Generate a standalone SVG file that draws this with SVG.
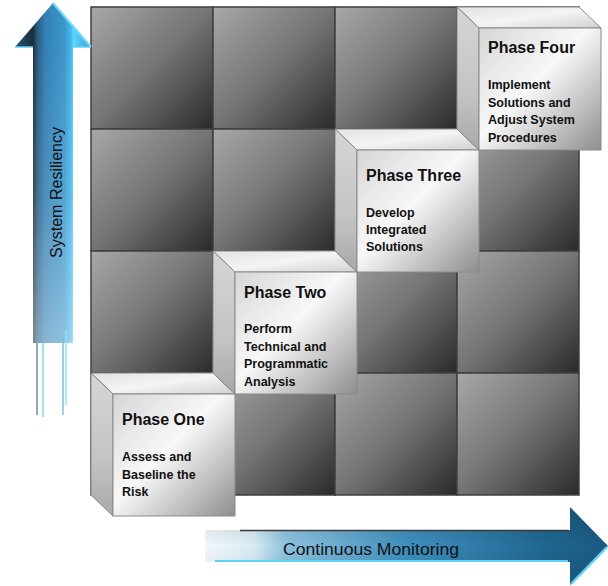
<svg xmlns="http://www.w3.org/2000/svg" width="608" height="586" viewBox="0 0 608 586">
  <style>
    .cell { fill: url(#cellGrad); stroke: #3f3f3f; stroke-width: 1.5; }
    .top { fill: url(#topGrad); stroke: #8a8a8a; stroke-width: 1; }
    .left { fill: url(#leftGrad); stroke: #8a8a8a; stroke-width: 1; }
    .front { fill: url(#frontGrad); stroke: #8a8a8a; stroke-width: 1; }
    .title { font-family: "Liberation Sans", Arial, sans-serif; font-weight: bold; font-size: 16px; fill: #111; }
    .sub { font-family: "Liberation Sans", Arial, sans-serif; font-weight: bold; font-size: 12.5px; fill: #111; }
    .axis { font-family: "Liberation Sans", Arial, sans-serif; font-size: 16px; fill: #111; }
  </style>
  <defs>
    <linearGradient id="cellGrad" x1="0" y1="0" x2="1" y2="1">
      <stop offset="0" stop-color="#a8a8a8"/>
      <stop offset="0.5" stop-color="#747474"/>
      <stop offset="1" stop-color="#2a2a2a"/>
    </linearGradient>
    <linearGradient id="frontGrad" x1="0" y1="0" x2="1" y2="1">
      <stop offset="0" stop-color="#d6d6d6"/>
      <stop offset="0.45" stop-color="#f8f8f8"/>
      <stop offset="0.55" stop-color="#e6e6e6"/>
      <stop offset="1" stop-color="#8e8e8e"/>
    </linearGradient>
    <linearGradient id="topGrad" x1="0" y1="0" x2="1" y2="1">
      <stop offset="0" stop-color="#e2e2e2"/>
      <stop offset="0.5" stop-color="#f4f4f4"/>
      <stop offset="1" stop-color="#d0d0d0"/>
    </linearGradient>
    <linearGradient id="leftGrad" x1="0" y1="0" x2="0" y2="1">
      <stop offset="0" stop-color="#d6d6d6"/>
      <stop offset="0.6" stop-color="#c4c4c4"/>
      <stop offset="1" stop-color="#a8a8a8"/>
    </linearGradient>
    <linearGradient id="vArrowH" x1="15" y1="0" x2="91" y2="0" gradientUnits="userSpaceOnUse">
      <stop offset="0" stop-color="#1f567a"/>
      <stop offset="0.237" stop-color="#1c2e3c"/>
      <stop offset="0.3" stop-color="#2a5f85"/>
      <stop offset="0.4" stop-color="#3380b5"/>
      <stop offset="0.65" stop-color="#3d97cc"/>
      <stop offset="0.74" stop-color="#48b8ea"/>
      <stop offset="0.77" stop-color="#5ad8ff"/>
      <stop offset="1" stop-color="#3a9ad0"/>
    </linearGradient>
    <linearGradient id="vArrowV" x1="0" y1="40" x2="0" y2="343" gradientUnits="userSpaceOnUse">
      <stop offset="0" stop-color="#ffffff" stop-opacity="0"/>
      <stop offset="0.5" stop-color="#ffffff" stop-opacity="0.12"/>
      <stop offset="1" stop-color="#ffffff" stop-opacity="0.42"/>
    </linearGradient>
    <linearGradient id="hArrowH" x1="205" y1="0" x2="608" y2="0" gradientUnits="userSpaceOnUse">
      <stop offset="0" stop-color="#f2f8fb"/>
      <stop offset="0.12" stop-color="#d8ebf4"/>
      <stop offset="0.2" stop-color="#8cc3df"/>
      <stop offset="0.5" stop-color="#3f8fbd"/>
      <stop offset="0.85" stop-color="#1f6690"/>
      <stop offset="1" stop-color="#1a5a80"/>
    </linearGradient>
    <linearGradient id="hArrowV" x1="0" y1="507" x2="0" y2="585" gradientUnits="userSpaceOnUse">
      <stop offset="0" stop-color="#000000" stop-opacity="0.15"/>
      <stop offset="0.5" stop-color="#000000" stop-opacity="0"/>
      <stop offset="1" stop-color="#000000" stop-opacity="0.1"/>
    </linearGradient>
  </defs>

  <g id="grid">
    <rect class="cell" x="91" y="7" width="122" height="122"/>
    <rect class="cell" x="213" y="7" width="122" height="122"/>
    <rect class="cell" x="335" y="7" width="122" height="122"/>
    <rect class="cell" x="457" y="7" width="122" height="122"/>
    <rect class="cell" x="91" y="129" width="122" height="122"/>
    <rect class="cell" x="213" y="129" width="122" height="122"/>
    <rect class="cell" x="335" y="129" width="122" height="122"/>
    <rect class="cell" x="457" y="129" width="122" height="122"/>
    <rect class="cell" x="91" y="251" width="122" height="122"/>
    <rect class="cell" x="213" y="251" width="122" height="122"/>
    <rect class="cell" x="335" y="251" width="122" height="122"/>
    <rect class="cell" x="457" y="251" width="122" height="122"/>
    <rect class="cell" x="91" y="373" width="122" height="122"/>
    <rect class="cell" x="213" y="373" width="122" height="122"/>
    <rect class="cell" x="335" y="373" width="122" height="122"/>
    <rect class="cell" x="457" y="373" width="122" height="122"/>
  </g>

  <g id="axes">
    <g id="system-resiliency">
      <path d="M53,3 L91,47 L73,47 L73,343 L33,343 L33,47 L15,47 Z" fill="url(#vArrowH)"/>
      <path d="M53,3 L91,47 L73,47 L73,343 L33,343 L33,47 L15,47 Z" fill="url(#vArrowV)"/>
      <path d="M53,3 L91,47" stroke="#6fdcfb" stroke-width="2" fill="none"/>
      <path d="M15,47 L33,47" stroke="#5fd0f5" stroke-width="1.5" fill="none"/>
      <path d="M73,47 L91,47" stroke="#5fd0f5" stroke-width="1.5" fill="none"/>
      <g stroke-width="1.5" fill="none">
        <line x1="37" y1="343" x2="37" y2="415" stroke="#6c8ea0"/>
        <line x1="43" y1="343" x2="43" y2="417" stroke="#7fd6ef"/>
        <line x1="63" y1="336" x2="63" y2="415" stroke="#7fc0d6"/>
        <line x1="66" y1="330" x2="66" y2="405" stroke="#8fe4fb"/>
      </g>
      <text class="axis" transform="translate(61.5,258) rotate(-90)" textLength="131" lengthAdjust="spacingAndGlyphs">System Resiliency</text>
    </g>
    <g id="continuous-monitoring">
      <path d="M205,530 L570,530 L570,507 L608,546 L570,585 L570,562 L205,562 Z" fill="url(#hArrowH)"/>
      <path d="M205,530 L570,530 L570,507 L608,546 L570,585 L570,562 L205,562 Z" fill="url(#hArrowV)"/>
      <line x1="240" y1="530.5" x2="568" y2="530.5" stroke="#3a3a3a" stroke-width="1.5"/>
      <line x1="215" y1="561" x2="568" y2="561" stroke="#5fd3f7" stroke-width="2"/>
      <path d="M571,584 L607,547" stroke="#5fd3f7" stroke-width="2.5" fill="none"/>
      <text class="axis" x="283" y="555" font-size="16.5" textLength="176" lengthAdjust="spacingAndGlyphs">Continuous Monitoring</text>
    </g>
  </g>

  <g id="phase-one">
    <polygon class="top" points="91,373 213,373 235,394 113,394"/>
    <polygon class="left" points="91,373 113,394 113,516 91,495"/>
    <rect class="front" x="113" y="394" width="122" height="122"/>
    <text class="title" x="122" y="425">Phase One</text>
    <text class="sub" x="122" y="461">Assess and</text>
    <text class="sub" x="122" y="478.5">Baseline the</text>
    <text class="sub" x="122" y="496">Risk</text>
  </g>

  <g id="phase-two">
    <polygon class="top" points="213,251 335,251 357,272 235,272"/>
    <polygon class="left" points="213,251 235,272 235,394 213,373"/>
    <rect class="front" x="235" y="272" width="122" height="122"/>
    <text class="title" x="244" y="298">Phase Two</text>
    <text class="sub" x="244" y="333">Perform</text>
    <text class="sub" x="244" y="350.5">Technical and</text>
    <text class="sub" x="244" y="368">Programmatic</text>
    <text class="sub" x="244" y="385.5">Analysis</text>
  </g>

  <g id="phase-three">
    <polygon class="top" points="335,129 457,129 479,150 357,150"/>
    <polygon class="left" points="335,129 357,150 357,272 335,251"/>
    <rect class="front" x="357" y="150" width="122" height="122"/>
    <text class="title" x="366" y="181">Phase Three</text>
    <text class="sub" x="366" y="217">Develop</text>
    <text class="sub" x="366" y="234">Integrated</text>
    <text class="sub" x="366" y="251">Solutions</text>
  </g>

  <g id="phase-four">
    <polygon class="top" points="457,7 579,7 601,28 479,28"/>
    <polygon class="left" points="457,7 479,28 479,150 457,129"/>
    <rect class="front" x="479" y="28" width="122" height="122"/>
    <text class="title" x="488" y="53">Phase Four</text>
    <text class="sub" x="488" y="89">Implement</text>
    <text class="sub" x="488" y="106.5">Solutions and</text>
    <text class="sub" x="488" y="124">Adjust System</text>
    <text class="sub" x="488" y="141.5">Procedures</text>
  </g>
</svg>
